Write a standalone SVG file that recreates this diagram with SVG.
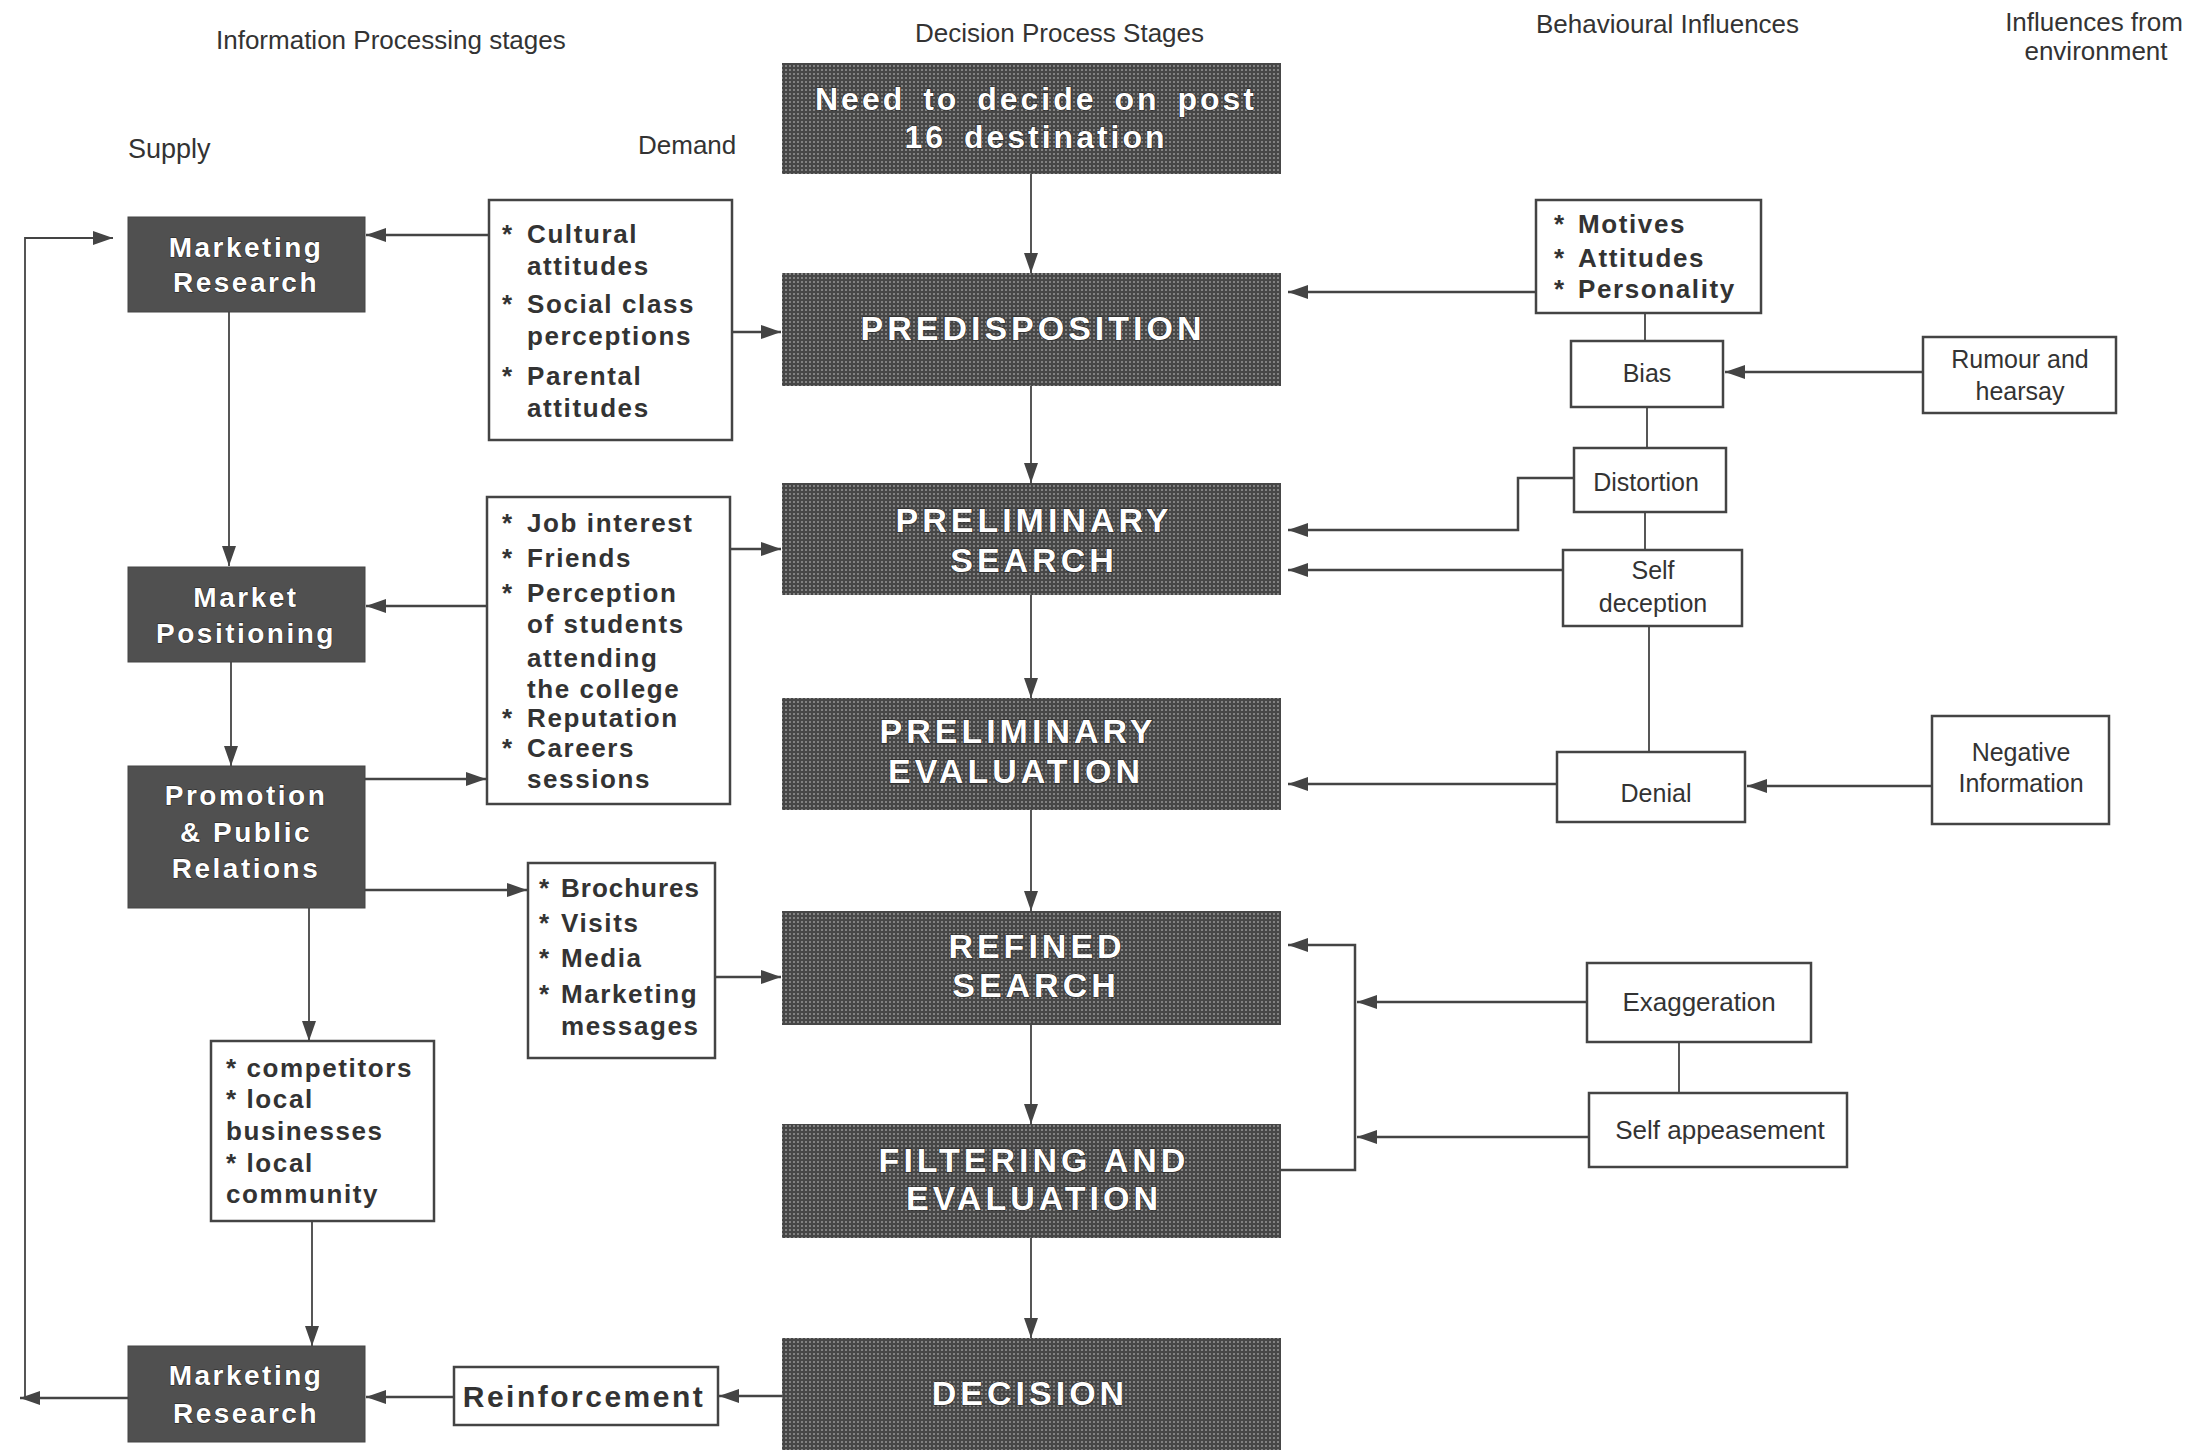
<svg xmlns="http://www.w3.org/2000/svg" width="2195" height="1450" viewBox="0 0 2195 1450">
<defs>
  <pattern id="ht" width="4" height="4" patternUnits="userSpaceOnUse">
    <rect width="4" height="4" fill="#474747"/>
    <circle cx="2" cy="2" r="0.95" fill="#9a9a9a"/>
  </pattern>
  <marker id="ah" markerUnits="userSpaceOnUse" markerWidth="22" markerHeight="14" refX="20" refY="7" orient="auto">
    <path d="M0,0 L20,7 L0,14 z" fill="#444"/>
  </marker>
  <style>
    .hd{font-family:"Liberation Sans",Arial,sans-serif;font-size:26px;fill:#333}
    .dk{fill:url(#ht);stroke:none}
    .sd{fill:#505050;stroke:#444;stroke-width:1}
    .wb{fill:#fff;stroke:#444;stroke-width:2.5}
    .dt{font-family:"Liberation Sans",Arial,sans-serif;font-weight:bold;font-size:34px;letter-spacing:4px;fill:#fff;stroke:#222;stroke-width:1.2;paint-order:stroke;text-anchor:middle}
    .st{font-family:"Liberation Sans",Arial,sans-serif;font-weight:bold;font-size:28px;letter-spacing:2.5px;fill:#fff;stroke:#222;stroke-width:1;paint-order:stroke;text-anchor:middle}
    .bl{font-family:"Liberation Sans",Arial,sans-serif;font-weight:bold;font-size:26px;letter-spacing:1.6px;fill:#333}
    .rt{font-family:"Liberation Sans",Arial,sans-serif;font-size:25px;fill:#333;text-anchor:middle}
    .c{fill:none;stroke:#444;stroke-width:2.5}
    .v{fill:none;stroke:#444;stroke-width:1.8}
    .a{marker-end:url(#ah)}
  </style>
</defs>
<rect width="2195" height="1450" fill="#fff"/>

<g id="headings">
  <text class="hd" x="216" y="49">Information Processing stages</text>
  <text class="hd" x="915" y="42">Decision Process Stages</text>
  <text class="hd" x="1536" y="33">Behavioural Influences</text>
  <text class="hd" x="2094" y="31" text-anchor="middle">Influences from</text>
  <text class="hd" x="2096" y="60" text-anchor="middle">environment</text>
  <text class="hd" x="128" y="158" style="font-size:27px">Supply</text>
  <text class="hd" x="638" y="154">Demand</text>
</g>

<g id="connectors">
  <path class="v a" d="M1031,174 V273"/>
  <path class="v a" d="M1031,386 V483"/>
  <path class="v a" d="M1031,595 V698"/>
  <path class="v a" d="M1031,810 V911"/>
  <path class="v a" d="M1031,1025 V1124"/>
  <path class="v a" d="M1031,1238 V1338"/>
  <path class="v a" d="M229,312 V566"/>
  <path class="v a" d="M231,662 V766"/>
  <path class="v a" d="M309,908 V1041"/>
  <path class="v a" d="M312,1221 V1346"/>
  <path class="c a" d="M128,1398 H20"/>
  <path class="v a" d="M25,1398 V238 H113"/>
  <path class="c a" d="M489,235 H366"/>
  <path class="c a" d="M732,332 H781"/>
  <path class="c a" d="M487,606 H366"/>
  <path class="c a" d="M730,549 H781"/>
  <path class="c a" d="M365,779 H486"/>
  <path class="c a" d="M365,890 H527"/>
  <path class="c a" d="M715,977 H781"/>
  <path class="c a" d="M782,1396 H719"/>
  <path class="c a" d="M454,1397 H366"/>
  <path class="c a" d="M1536,292 H1288"/>
  <path class="v" d="M1645,313 V341"/>
  <path class="c a" d="M1923,372 H1725"/>
  <path class="v" d="M1647,407 V448"/>
  <path class="c a" d="M1574,478 H1518 V530 H1288"/>
  <path class="v" d="M1645,512 V550"/>
  <path class="c a" d="M1563,570 H1288"/>
  <path class="v" d="M1649,626 V752"/>
  <path class="c a" d="M1557,784 H1288"/>
  <path class="c a" d="M1932,786 H1747"/>
  <path class="c a" d="M1281,1170 H1355 V945 H1288"/>
  <path class="c a" d="M1587,1002 H1357"/>
  <path class="v" d="M1679,1042 V1093"/>
  <path class="c a" d="M1589,1137 H1357"/>
</g>

<g id="need">
  <rect class="dk" x="782" y="63" width="499" height="111"/>
  <text class="dt" x="1036" y="110" style="font-size:32px;letter-spacing:3px;word-spacing:6px">Need to decide on post</text>
  <text class="dt" x="1036" y="148" style="font-size:32px;letter-spacing:3px;word-spacing:6px">16 destination</text>
</g>
<g id="predisposition">
  <rect class="dk" x="782" y="273" width="499" height="113"/>
  <text class="dt" x="1033" y="340">PREDISPOSITION</text>
</g>
<g id="preliminary-search">
  <rect class="dk" x="782" y="483" width="499" height="112"/>
  <text class="dt" x="1034" y="532">PRELIMINARY</text>
  <text class="dt" x="1034" y="572">SEARCH</text>
</g>
<g id="preliminary-evaluation">
  <rect class="dk" x="782" y="698" width="499" height="112"/>
  <text class="dt" x="1018" y="743">PRELIMINARY</text>
  <text class="dt" x="1016" y="783">EVALUATION</text>
</g>
<g id="refined-search">
  <rect class="dk" x="782" y="911" width="499" height="114"/>
  <text class="dt" x="1037" y="958">REFINED</text>
  <text class="dt" x="1036" y="997">SEARCH</text>
</g>
<g id="filtering">
  <rect class="dk" x="782" y="1124" width="499" height="114"/>
  <text class="dt" x="1034" y="1172">FILTERING AND</text>
  <text class="dt" x="1034" y="1210">EVALUATION</text>
</g>
<g id="decision">
  <rect class="dk" x="782" y="1338" width="499" height="114"/>
  <text class="dt" x="1030" y="1405">DECISION</text>
</g>

<g id="marketing-research-top">
  <rect class="sd" x="128" y="217" width="237" height="95"/>
  <text class="st" x="246" y="257">Marketing</text>
  <text class="st" x="246" y="292">Research</text>
</g>
<g id="market-positioning">
  <rect class="sd" x="128" y="567" width="237" height="95"/>
  <text class="st" x="246" y="607">Market</text>
  <text class="st" x="246" y="643">Positioning</text>
</g>
<g id="promotion">
  <rect class="sd" x="128" y="766" width="237" height="142"/>
  <text class="st" x="246" y="805">Promotion</text>
  <text class="st" x="246" y="842">&amp; Public</text>
  <text class="st" x="246" y="878">Relations</text>
</g>
<g id="marketing-research-bottom">
  <rect class="sd" x="128" y="1346" width="237" height="96"/>
  <text class="st" x="246" y="1385">Marketing</text>
  <text class="st" x="246" y="1423">Research</text>
</g>

<g id="cultural">
  <rect class="wb" x="489" y="200" width="243" height="240"/>
  <text class="bl" x="502" y="243">*</text><text class="bl" x="527" y="243">Cultural</text>
  <text class="bl" x="527" y="275">attitudes</text>
  <text class="bl" x="502" y="313">*</text><text class="bl" x="527" y="313">Social class</text>
  <text class="bl" x="527" y="345">perceptions</text>
  <text class="bl" x="502" y="385">*</text><text class="bl" x="527" y="385">Parental</text>
  <text class="bl" x="527" y="417">attitudes</text>
</g>
<g id="job-interest">
  <rect class="wb" x="487" y="497" width="243" height="307"/>
  <text class="bl" x="502" y="532">*</text><text class="bl" x="527" y="532">Job  interest</text>
  <text class="bl" x="502" y="567">*</text><text class="bl" x="527" y="567">Friends</text>
  <text class="bl" x="502" y="602">*</text><text class="bl" x="527" y="602">Perception</text>
  <text class="bl" x="527" y="633">of  students</text>
  <text class="bl" x="527" y="667">attending</text>
  <text class="bl" x="527" y="698">the  college</text>
  <text class="bl" x="502" y="727">*</text><text class="bl" x="527" y="727">Reputation</text>
  <text class="bl" x="502" y="757">*</text><text class="bl" x="527" y="757">Careers</text>
  <text class="bl" x="527" y="788">sessions</text>
</g>
<g id="brochures">
  <rect class="wb" x="528" y="863" width="187" height="195"/>
  <text class="bl" x="539" y="897">*</text><text class="bl" x="561" y="897" style="letter-spacing:1px">Brochures</text>
  <text class="bl" x="539" y="932">*</text><text class="bl" x="561" y="932">Visits</text>
  <text class="bl" x="539" y="967">*</text><text class="bl" x="561" y="967">Media</text>
  <text class="bl" x="539" y="1003">*</text><text class="bl" x="561" y="1003">Marketing</text>
  <text class="bl" x="561" y="1035">messages</text>
</g>
<g id="competitors">
  <rect class="wb" x="211" y="1041" width="223" height="180"/>
  <text class="bl" x="226" y="1077">* competitors</text>
  <text class="bl" x="226" y="1108">* local</text>
  <text class="bl" x="226" y="1140">businesses</text>
  <text class="bl" x="226" y="1172">* local</text>
  <text class="bl" x="226" y="1203">community</text>
</g>
<g id="reinforcement">
  <rect class="wb" x="454" y="1367" width="264" height="58"/>
  <text class="bl" x="584" y="1407" text-anchor="middle" style="font-size:30px;letter-spacing:2.5px">Reinforcement</text>
</g>

<g id="motives">
  <rect class="wb" x="1536" y="200" width="225" height="113"/>
  <text class="bl" x="1554" y="233">*</text><text class="bl" x="1578" y="233">Motives</text>
  <text class="bl" x="1554" y="267">*</text><text class="bl" x="1578" y="267">Attitudes</text>
  <text class="bl" x="1554" y="298">*</text><text class="bl" x="1578" y="298">Personality</text>
</g>
<g id="bias">
  <rect class="wb" x="1571" y="341" width="152" height="66"/>
  <text class="rt" x="1647" y="382">Bias</text>
</g>
<g id="rumour">
  <rect class="wb" x="1923" y="337" width="193" height="76"/>
  <text class="rt" x="2020" y="368">Rumour and</text>
  <text class="rt" x="2020" y="400">hearsay</text>
</g>
<g id="distortion">
  <rect class="wb" x="1574" y="448" width="152" height="64"/>
  <text class="rt" x="1646" y="491">Distortion</text>
</g>
<g id="self-deception">
  <rect class="wb" x="1563" y="550" width="179" height="76"/>
  <text class="rt" x="1653" y="579">Self</text>
  <text class="rt" x="1653" y="612">deception</text>
</g>
<g id="denial">
  <rect class="wb" x="1557" y="752" width="188" height="70"/>
  <text class="rt" x="1656" y="802">Denial</text>
</g>
<g id="negative">
  <rect class="wb" x="1932" y="716" width="177" height="108"/>
  <text class="rt" x="2021" y="761">Negative</text>
  <text class="rt" x="2021" y="792">Information</text>
</g>
<g id="exaggeration">
  <rect class="wb" x="1587" y="963" width="224" height="79"/>
  <text class="rt" x="1699" y="1011" style="font-size:26px">Exaggeration</text>
</g>
<g id="self-appeasement">
  <rect class="wb" x="1589" y="1093" width="258" height="74"/>
  <text class="rt" x="1720" y="1139" style="font-size:26px">Self appeasement</text>
</g>
</svg>
